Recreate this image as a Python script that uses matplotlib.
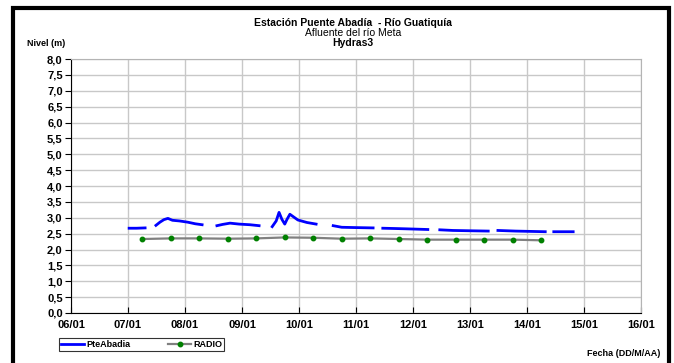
import numpy as np
import matplotlib
matplotlib.use('Agg')
import matplotlib.pyplot as plt
from matplotlib.patches import Rectangle

plt.rcParams['font.family'] = ['Liberation Sans', 'DejaVu Sans']

#%% Data (day of January, level in m). NaN marks gaps in the record.
pte_days = [7.02, 7.15, 7.30, np.nan,
            7.49, 7.56, 7.63, 7.70, 7.78, 7.90, 8.05, 8.18, 8.30, np.nan,
            8.56, 8.66, 8.79, 8.95, 9.14, 9.30, np.nan,
            9.53, 9.60, 9.65, 9.70, 9.75, 9.79, 9.84, 9.98, 10.14, 10.30, np.nan,
            10.60, 10.75, 11.00, 11.30, np.nan,
            11.47, 11.70, 11.90, 12.26, np.nan,
            12.47, 12.70, 13.00, 13.32, np.nan,
            13.49, 13.80, 14.32, np.nan,
            14.47, 14.81]
pte_level = [2.67, 2.67, 2.68, np.nan,
             2.76, 2.86, 2.94, 2.98, 2.92, 2.90, 2.86, 2.81, 2.78, np.nan,
             2.75, 2.79, 2.83, 2.80, 2.78, 2.75, np.nan,
             2.72, 2.90, 3.17, 2.95, 2.80, 2.95, 3.11, 2.93, 2.85, 2.80, np.nan,
             2.75, 2.70, 2.69, 2.68, np.nan,
             2.67, 2.66, 2.65, 2.63, np.nan,
             2.62, 2.60, 2.59, 2.58, np.nan,
             2.60, 2.58, 2.56, np.nan,
             2.56, 2.56]

radio_days = [7.25, 7.75, 8.25, 8.75, 9.25, 9.75, 10.25, 10.75,
              11.25, 11.75, 12.25, 12.75, 13.25, 13.75, 14.25]
radio_level = [2.33, 2.35, 2.35, 2.34, 2.35, 2.38, 2.37, 2.34,
               2.35, 2.33, 2.31, 2.31, 2.31, 2.31, 2.29]

x_ticks = list(range(6, 17))
x_labels = ['%02d/01' % d for d in x_ticks]
y_ticks = np.arange(0, 8.01, 0.5)

#%% Plot.
fig = plt.figure(figsize=(6.74, 3.63), dpi=100)
ax = fig.add_axes([71 / 674, 1 - 313 / 363, 570 / 674, 254 / 363])

ax.plot(pte_days, pte_level, color='#0000ff', lw=2.0, label='PteAbadia')
ax.plot(radio_days, radio_level, color='#808080', lw=1.6,
        marker='o', ms=3.2, mfc='#008000', mec='#008000', label='RADIO')

ax.set_xlim(6, 16)
ax.set_ylim(0, 8)
ax.set_xticks(x_ticks)
ax.set_xticklabels(x_labels)
ax.set_yticks(y_ticks)
ax.set_yticklabels([('%.1f' % v).replace('.', ',') for v in y_ticks])
ax.grid(True, color='#c8c8c8', lw=1.0)
ax.set_axisbelow(True)
for side in ['top', 'right']:
    ax.spines[side].set_color('#b4b4b4')
for side in ['left', 'bottom']:
    ax.spines[side].set_color('black')
    ax.spines[side].set_linewidth(0.8)
ax.tick_params(axis='y', direction='out', length=4, width=0.8, pad=2)
ax.tick_params(axis='x', direction='in', length=4, width=0.8, pad=5)
for lab in ax.get_xticklabels() + ax.get_yticklabels():
    lab.set_fontsize(8)
    lab.set_fontweight('bold')

fig.text(353 / 674, 1 - 23 / 363, u'Estación Puente Abadía  - Río Guatiquía',
         ha='center', va='center', fontsize=7.5, fontweight='bold')
fig.text(353 / 674, 1 - 33 / 363, u'Afluente del río Meta',
         ha='center', va='center', fontsize=7.5)
fig.text(353 / 674, 1 - 43 / 363, 'Hydras3',
         ha='center', va='center', fontsize=7.5, fontweight='bold')
fig.text(27 / 674, 1 - 43 / 363, 'Nivel (m)',
         ha='left', va='center', fontsize=6.5, fontweight='bold')
fig.text(660 / 674, 1 - 353 / 363, 'Fecha (DD/M/AA)',
         ha='right', va='center', fontsize=6.5, fontweight='bold')

leg = fig.legend(loc='lower left', bbox_to_anchor=(54 / 674, 1 - 356 / 363, 175 / 674, 16 / 363),
                 mode='expand', ncol=2, frameon=True, fancybox=False,
                 borderpad=0.25, handlelength=2.6, handletextpad=0.2,
                 columnspacing=1.0, prop={'size': 6.5, 'weight': 'bold'})
leg.get_frame().set_edgecolor('black')
leg.get_frame().set_linewidth(0.8)

# thick black frame around the chart
fig.patches.append(Rectangle((13 / 674, -0.05), 656 / 674, 1 - 8 / 363 + 0.05,
                             transform=fig.transFigure, fill=False,
                             edgecolor='black', lw=3.0))

fig.savefig('out.png', dpi=100)
